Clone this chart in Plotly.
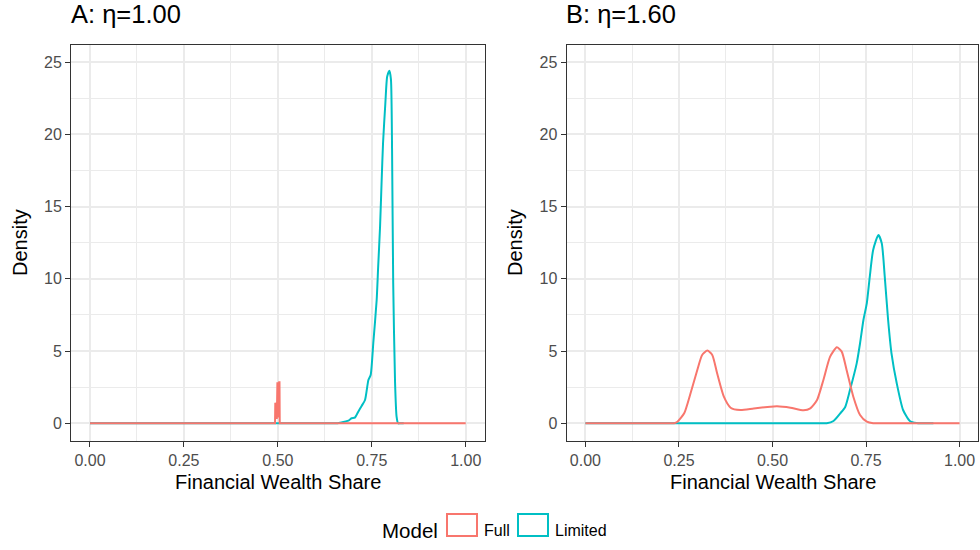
import plotly.graph_objects as go

# ---------------- data ----------------
models = ["Full", "Limited"]
colors = {"Full": "#F8766D", "Limited": "#00BFC4"}
panel_titles = ["A: η=1.00", "B: η=1.60"]

# Panel A (eta = 1.00)
a_full_x = [0.0, 0.4925, 0.4932, 0.4940, 0.4948, 0.4956, 0.4964, 0.4972, 0.4980,
            0.4988, 0.4996, 0.5004, 0.5012, 0.5020, 0.5028, 0.5036, 0.5044, 0.5050, 1.0]
a_full_y = [0.0, 0.0, 1.43, 0.3, 1.43, 0.3, 1.43, 0.3, 1.43,
            2.84, 0.4, 2.84, 0.4, 2.84, 0.4, 2.84, 2.84, 0.0, 0.0]

a_lim_x = [0.0, 0.60, 0.64, 0.655, 0.665, 0.688, 0.696, 0.705, 0.714, 0.723,
           0.732, 0.741, 0.747, 0.754, 0.763, 0.767, 0.772, 0.776, 0.780, 0.786,
           0.791, 0.797, 0.801, 0.804, 0.807, 0.812, 0.816, 0.820, 0.825, 0.835]
a_lim_y = [0.0, 0.0, 0.0, 0.0, 0.04, 0.18, 0.35, 0.39, 0.80, 1.20,
           1.61, 3.00, 3.34, 5.54, 8.53, 10.84, 13.6, 16.6, 19.4, 22.1,
           24.0, 24.4, 23.8, 18.9, 9.7, 2.77, 0.46, 0.0, 0.0, 0.0]

# Panel B (eta = 1.60)
b_full_x = [0.0, 0.18, 0.215, 0.228, 0.237, 0.246, 0.264, 0.281, 0.299, 0.312,
            0.326, 0.339, 0.352, 0.370, 0.388, 0.414, 0.450, 0.494, 0.512, 0.548,
            0.583, 0.601, 0.619, 0.636, 0.654, 0.672, 0.685, 0.698, 0.716, 0.734,
            0.752, 0.769, 0.780, 0.795, 0.83, 1.0]
b_full_y = [0.0, 0.0, 0.0, 0.0, 0.0, 0.11, 0.69, 2.08, 3.69, 4.73,
            5.03, 4.73, 3.46, 1.84, 1.08, 0.92, 1.03, 1.15, 1.18, 1.08,
            0.90, 1.03, 1.61, 3.00, 4.61, 5.26, 4.96, 3.69, 1.84, 0.57,
            0.11, 0.0, 0.0, 0.0, 0.0, 0.0]

b_lim_x = [0.0, 0.58, 0.62, 0.635, 0.645, 0.663, 0.681, 0.694, 0.707, 0.725,
           0.734, 0.743, 0.752, 0.760, 0.769, 0.783, 0.792, 0.800, 0.809, 0.818,
           0.832, 0.849, 0.867, 0.885, 0.90, 0.91, 0.93]
b_lim_y = [0.0, 0.0, 0.0, 0.0, 0.0, 0.16, 0.69, 1.11, 2.30, 4.15,
           5.54, 7.15, 8.30, 10.15, 12.0, 13.03, 12.46, 10.15, 7.15, 4.84,
           2.77, 0.92, 0.16, 0.02, 0.0, 0.0, 0.0]

x_ticks = [0, 0.25, 0.5, 0.75, 1.0]
x_ticktext = ["0.00", "0.25", "0.50", "0.75", "1.00"]
y_ticks = [0, 5, 10, 15, 20, 25]
x_minor = [0.125, 0.375, 0.625, 0.875]
y_minor = [2.5, 7.5, 12.5, 17.5, 22.5]

# ---------------- figure ----------------
W, H = 980, 550
def px(x):
    return x / W
def py(y):
    return 1 - y / H

fig = go.Figure()
panels = [
    ({"Full": (a_full_x, a_full_y, "linear"), "Limited": (a_lim_x, a_lim_y, "spline")}, "x", "y"),
    ({"Full": (b_full_x, b_full_y, "spline"), "Limited": (b_lim_x, b_lim_y, "spline")}, "x2", "y2"),
]
for data, xa, ya in panels:
    for m in ["Limited", "Full"]:
        xs, ys, shape = data[m]
        line = dict(color=colors[m], width=2, shape=shape)
        if shape == "spline":
            line["smoothing"] = 0.6
        fig.add_trace(go.Scatter(x=xs, y=ys, mode="lines", name=m,
                                 line=line,
                                 xaxis=xa, yaxis=ya, showlegend=False,
                                 hoverinfo="skip"))

tickfont = dict(family="Liberation Sans, Arial, sans-serif", size=16, color="#4D4D4D")
grid = "#EBEBEB"
common_x = dict(range=[-0.05, 1.05], tickvals=x_ticks, ticktext=x_ticktext,
                showgrid=True, gridcolor=grid, gridwidth=2, zeroline=False,
                showline=True, linecolor="#333333", linewidth=1.3, mirror=True,
                ticks="outside", ticklen=5, tickwidth=1.3, tickcolor="#333333",
                tickfont=tickfont,
                minor=dict(tickvals=x_minor, showgrid=True, gridcolor=grid,
                           gridwidth=1, ticklen=0))
common_y = dict(range=[-1.225, 26.18], tickvals=y_ticks,
                showgrid=True, gridcolor=grid, gridwidth=2, zeroline=False,
                showline=True, linecolor="#333333", linewidth=1.3, mirror=True,
                ticks="outside", ticklen=5, tickwidth=1.3, tickcolor="#333333",
                tickfont=tickfont,
                minor=dict(tickvals=y_minor, showgrid=True, gridcolor=grid,
                           gridwidth=1, ticklen=0))

ydom = [py(441), py(45)]
fig.update_layout(
    width=W, height=H,
    margin=dict(l=0, r=0, t=0, b=0),
    paper_bgcolor="white", plot_bgcolor="white",
    showlegend=False,
    xaxis=dict(common_x, domain=[px(71.2), px(484.5)], anchor="y"),
    yaxis=dict(common_y, domain=ydom, anchor="x"),
    xaxis2=dict(common_x, domain=[px(566.7), px(978.3)], anchor="y2"),
    yaxis2=dict(common_y, domain=ydom, anchor="x2"),
)

font_main = "Liberation Sans, Arial, sans-serif"
anns = []
# panel titles
for t, xl in zip(panel_titles, [68.7, 563.7]):
    anns.append(dict(text=t, x=px(xl), y=py(14), xref="paper", yref="paper",
                     xanchor="left", yanchor="middle", showarrow=False,
                     font=dict(family=font_main, size=25.5, color="black")))
# axis titles
for cx in [277.9, 772.5]:
    anns.append(dict(text="Financial Wealth Share", x=px(cx), y=py(482),
                     xref="paper", yref="paper", xanchor="center", yanchor="middle",
                     showarrow=False, font=dict(family=font_main, size=20, color="black")))
for cx in [20, 515]:
    anns.append(dict(text="Density", x=px(cx), y=py(243), textangle=-90,
                     xref="paper", yref="paper", xanchor="center", yanchor="middle",
                     showarrow=False, font=dict(family=font_main, size=20, color="black")))

# legend (drawn manually to match square outlined keys)
anns.append(dict(text="Model", x=px(440), y=py(530), xref="paper", yref="paper",
                 xanchor="right", yanchor="middle", showarrow=False,
                 font=dict(family=font_main, size=20.5, color="black")))
shapes = []
key_x = {"Full": 446, "Limited": 517}
for m in models:
    x0 = key_x[m]
    shapes.append(dict(type="rect", xref="paper", yref="paper",
                       x0=px(x0 + 1), x1=px(x0 + 31), y0=py(536), y1=py(514),
                       line=dict(color=colors[m], width=2), fillcolor="white"))
    anns.append(dict(text=m, x=px(x0 + 36), y=py(530), xref="paper", yref="paper",
                     xanchor="left", yanchor="middle", showarrow=False,
                     font=dict(family=font_main, size=16, color="black")))

fig.update_layout(annotations=anns, shapes=shapes)
fig.write_html("out.html")
